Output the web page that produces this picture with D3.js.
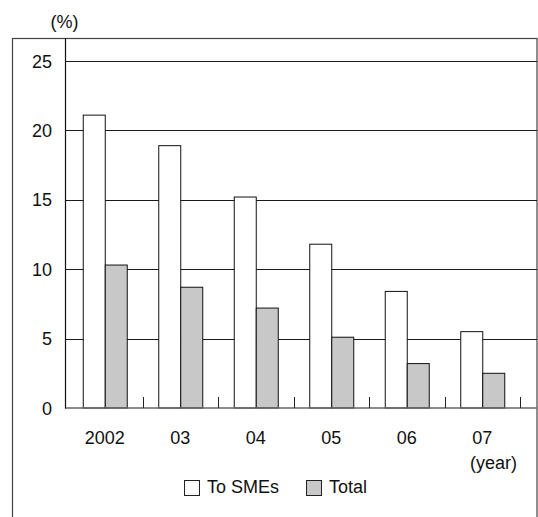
<!DOCTYPE html>
<html>
<head>
<meta charset="utf-8">
<script src="https://cdn.jsdelivr.net/npm/d3@7"></script>
<style>
  html, body { margin: 0; padding: 0; background: #fff; }
  svg { display: block; font-family: "Liberation Sans", Arial, Helvetica, sans-serif; }
</style>
</head>
<body>
<svg id="chart" width="538" height="517"></svg>
<script>
// Loan rates by year, in percent
const years = ["2002", "03", "04", "05", "06", "07"];
const toSMEs = [21.1, 18.9, 15.2, 11.8, 8.4, 5.5];
const total = [10.3, 8.7, 7.2, 5.1, 3.2, 2.5];
const yTicks = [0, 5, 10, 15, 20, 25];
const seriesNames = ["To SMEs", "Total"];
const seriesFills = ["#ffffff", "#c8c8c8"];

const svg = d3.select("#chart");

const x = d3.scaleBand().domain(years).range([67, 520]).padding(0);
const bw = x.bandwidth();
const barW = 22;
const xs = d3.scaleBand().domain([0, 1]).range([bw / 2 - barW, bw / 2 + barW]).padding(0);
const y = d3.scaleLinear().domain([0, 25]).range([408, 61]);

// Outer frame
svg.append("rect")
  .attr("x", 12.5).attr("y", 38.5)
  .attr("width", 537 - 12.5).attr("height", 530)
  .attr("fill", "none").attr("stroke", "#444").attr("stroke-width", 1.2);

// Horizontal gridlines
svg.append("g").selectAll("line")
  .data(yTicks.filter(d => d > 0))
  .join("line")
  .attr("x1", 65).attr("x2", 537)
  .attr("y1", d => Math.round(y(d)) + 0.5).attr("y2", d => Math.round(y(d)) + 0.5)
  .attr("stroke", "#1a1a1a").attr("stroke-width", 1);

// Bars
const rows = years.map((yr, i) => ({ yr, vals: [toSMEs[i], total[i]] }));
const groups = svg.append("g").selectAll("g")
  .data(rows)
  .join("g")
  .attr("transform", d => `translate(${x(d.yr)},0)`);
groups.selectAll("rect")
  .data(d => d.vals.map((v, k) => ({ v, k })))
  .join("rect")
  .attr("x", d => xs(d.k) + 0.5)
  .attr("width", xs.bandwidth())
  .attr("y", d => y(d.v))
  .attr("height", d => y(0) - y(d.v))
  .attr("fill", d => seriesFills[d.k])
  .attr("stroke", "#111").attr("stroke-width", 1);

// Baseline and category separators
svg.append("line")
  .attr("x1", 65).attr("x2", 537).attr("y1", 408).attr("y2", 408)
  .attr("stroke", "#666").attr("stroke-width", 1.5);
const bounds = years.map(d => x(d) + bw).concat([]);
svg.append("g").selectAll("line")
  .data(bounds)
  .join("line")
  .attr("x1", d => Math.round(d) + 0.5).attr("x2", d => Math.round(d) + 0.5)
  .attr("y1", 408).attr("y2", 397)
  .attr("stroke", "#222").attr("stroke-width", 1);

// Y axis line
svg.append("line")
  .attr("x1", 65.5).attr("x2", 65.5).attr("y1", 38.5).attr("y2", 408.5)
  .attr("stroke", "#111").attr("stroke-width", 1.2);

// Y tick labels
svg.append("g").selectAll("text")
  .data(yTicks)
  .join("text")
  .attr("x", 52).attr("y", d => y(d) + 6.5)
  .attr("text-anchor", "end")
  .attr("font-size", 18).attr("fill", "#111")
  .text(d => d);

svg.append("text")
  .attr("x", 64.5).attr("y", 28)
  .attr("text-anchor", "middle").attr("font-size", 18).attr("fill", "#111")
  .text("(%)");

// X labels
svg.append("g").selectAll("text")
  .data(years)
  .join("text")
  .attr("x", d => x(d) + bw / 2).attr("y", 444)
  .attr("text-anchor", "middle").attr("font-size", 18).attr("fill", "#111")
  .text(d => d);

svg.append("text")
  .attr("x", 470).attr("y", 469)
  .attr("font-size", 18).attr("fill", "#111")
  .text("(year)");

// Legend
const legendX = [184, 306];
const lg = svg.append("g").selectAll("g")
  .data(seriesNames)
  .join("g")
  .attr("transform", (d, i) => `translate(${legendX[i]},480)`);
lg.append("rect")
  .attr("x", 0.5).attr("y", 0.5).attr("width", 15).attr("height", 15)
  .attr("fill", (d, i) => seriesFills[i]).attr("stroke", "#222").attr("stroke-width", 1);
lg.append("text")
  .attr("x", 23).attr("y", 13)
  .attr("font-size", 18).attr("fill", "#111")
  .text(d => d);
</script>
</body>
</html>
